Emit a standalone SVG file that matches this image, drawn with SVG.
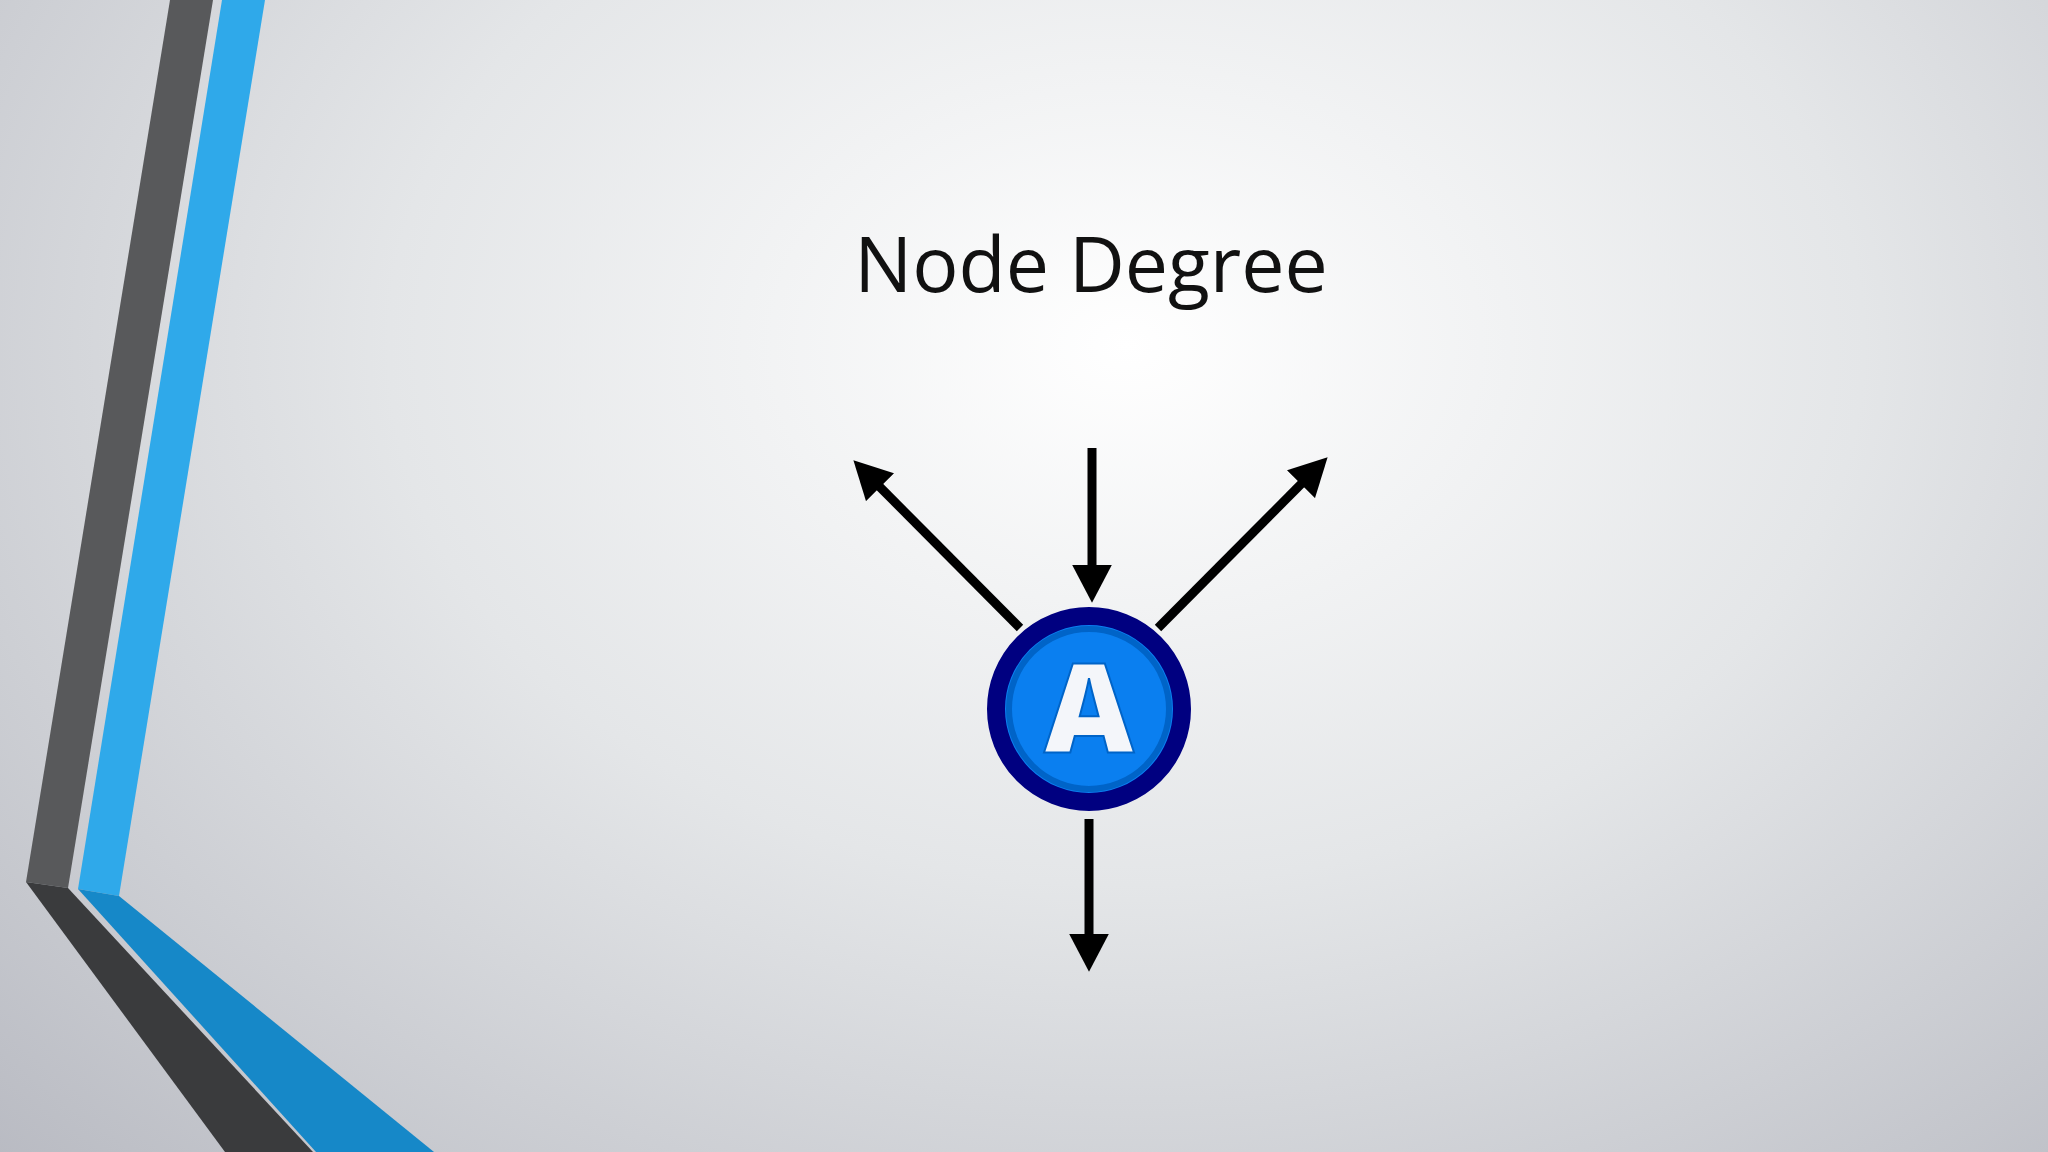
<svg xmlns="http://www.w3.org/2000/svg" width="2048" height="1152" viewBox="0 0 2048 1152">
<defs>
<radialGradient id="bg" cx="0.55" cy="0.3" r="0.8" gradientTransform="translate(0.55 0.3) scale(1 1.3) translate(-0.55 -0.3)">
<stop offset="0" stop-color="#ffffff"/>
<stop offset="0.45" stop-color="#e4e6e8"/>
<stop offset="1" stop-color="#b6b8c0"/>
</radialGradient>
<marker id="ah" markerWidth="4.4" markerHeight="4.4" refX="3" refY="2.2" orient="auto" markerUnits="strokeWidth">
<path d="M0,0 L4.2,2.2 L0,4.4 Z" fill="#000"/>
</marker>
<style>
.arr{stroke:#000;stroke-width:9;fill:none;marker-end:url(#ah)}
</style>
</defs>
<rect width="2048" height="1152" fill="url(#bg)"/>
<polygon points="170,0 213,0 68,888 26,882" fill="#58595b"/>
<polygon points="222,0 265,0 119,896 78,889" fill="#2fa9ea"/>
<polygon points="26,882 68,888 313,1152 225,1152" fill="#3a3b3d"/>
<polygon points="78,889 119,896 434,1152 316,1152" fill="#1688c8"/>
<text x="1091" y="292" text-anchor="middle" font-family="Open Sans, sans-serif" font-size="77" fill="#111">Node Degree</text>
<g id="connectors">
<line class="arr" x1="1092" y1="448" x2="1092" y2="592"/>
<line class="arr" x1="1020" y1="628" x2="861" y2="468"/>
<line class="arr" x1="1158" y1="628" x2="1320" y2="465"/>
<line class="arr" x1="1089" y1="819" x2="1089" y2="961"/>
</g>
<g id="nodeA">
<circle cx="1089" cy="709" r="93" fill="#0a7ff0" stroke="#000080" stroke-width="18"/>
<circle cx="1089" cy="709" r="80" fill="none" stroke="#0064c8" stroke-width="6"/>
<text x="1089" y="753" text-anchor="middle" font-family="Open Sans, sans-serif" font-weight="800" font-size="124" fill="#f4f6fa" stroke="#0064c8" stroke-width="2">A</text>
</g>
</svg>
